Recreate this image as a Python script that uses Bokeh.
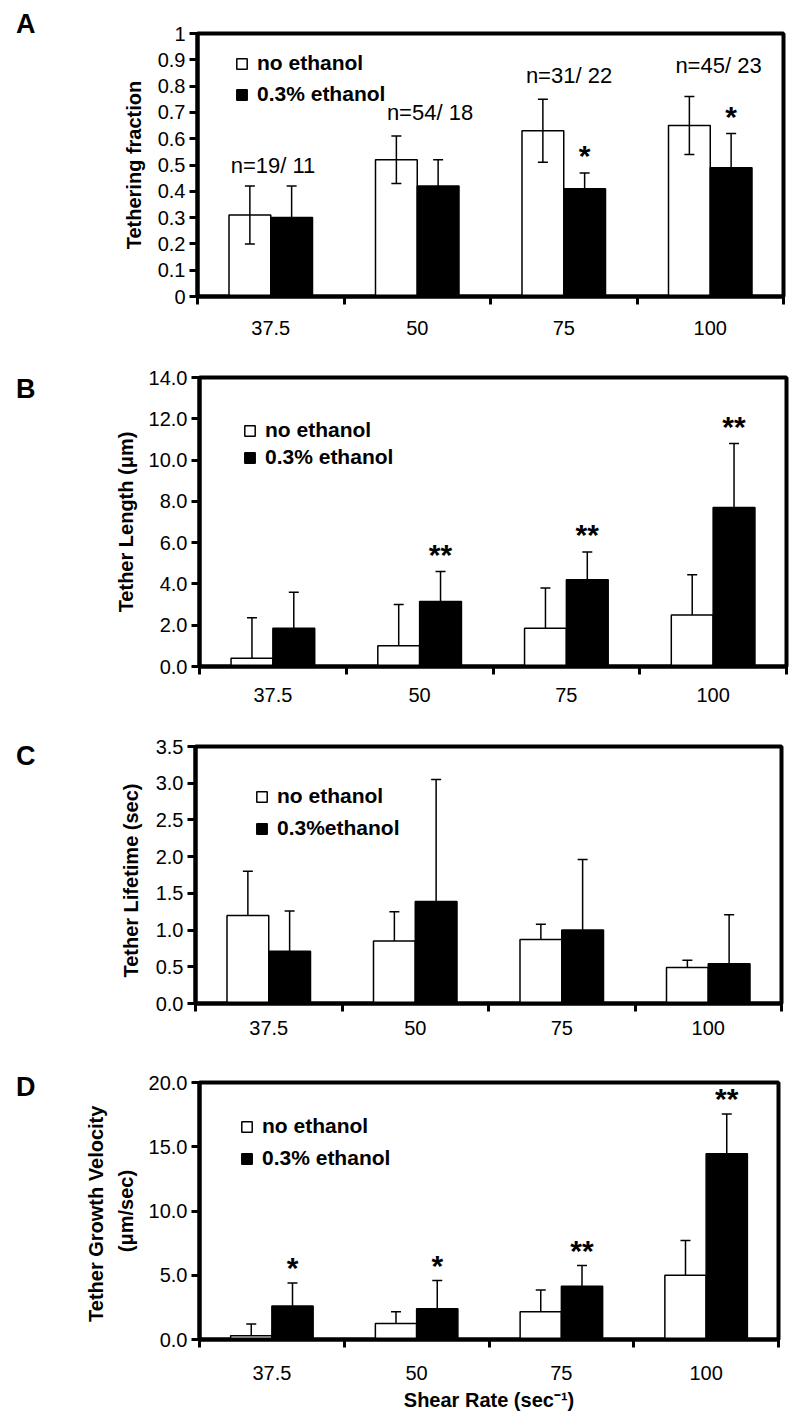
from bokeh.plotting import figure
from bokeh.layouts import column, row
from bokeh.models import (Range1d, FixedTicker, ColumnDataSource, Whisker, TeeHead,
                          Legend, LegendItem, Label, Div)
from bokeh.embed import file_html
from bokeh.resources import INLINE
from bokeh.core.properties import value

# ---------------- data ----------------
categories = ["37.5", "50", "75", "100"]
series_names = ["no ethanol", "0.3% ethanol"]

# A: tethering fraction
frac_no = [0.31, 0.52, 0.63, 0.65]
frac_no_err = [0.11, 0.09, 0.12, 0.11]
frac_eth = [0.30, 0.42, 0.41, 0.49]
frac_eth_err = [0.12, 0.10, 0.06, 0.13]
frac_n = ["n=19/ 11", "n=54/ 18", "n=31/ 22", "n=45/ 23"]
frac_stars = ["", "", "*", "*"]
frac_ticks = [0, 0.1, 0.2, 0.3, 0.4, 0.5, 0.6, 0.7, 0.8, 0.9, 1.0]
frac_tick_labels = ["0", "0.1", "0.2", "0.3", "0.4", "0.5", "0.6", "0.7", "0.8", "0.9", "1"]

# B: tether length (um)
len_no = [0.4, 1.0, 1.85, 2.5]
len_no_err = [1.96, 2.0, 1.95, 1.95]
len_eth = [1.85, 3.15, 4.2, 7.7]
len_eth_err = [1.75, 1.45, 1.35, 3.1]
len_stars = ["", "**", "**", "**"]
len_ticks = [0, 2, 4, 6, 8, 10, 12, 14]
len_tick_labels = ["0.0", "2.0", "4.0", "6.0", "8.0", "10.0", "12.0", "14.0"]

# C: tether lifetime (sec)
life_no = [1.2, 0.85, 0.87, 0.49]
life_no_err = [0.6, 0.4, 0.21, 0.1]
life_eth = [0.71, 1.39, 1.0, 0.54]
life_eth_err = [0.55, 1.66, 0.96, 0.67]
life_stars = ["", "", "", ""]
life_ticks = [0, 0.5, 1.0, 1.5, 2.0, 2.5, 3.0, 3.5]
life_tick_labels = ["0.0", "0.5", "1.0", "1.5", "2.0", "2.5", "3.0", "3.5"]

# D: tether growth velocity (um/sec)
vel_no = [0.3, 1.25, 2.15, 5.0]
vel_no_err = [0.9, 0.9, 1.7, 2.7]
vel_eth = [2.6, 2.4, 4.15, 14.45]
vel_eth_err = [1.8, 2.2, 1.6, 3.1]
vel_stars = ["*", "*", "**", "**"]
vel_ticks = [0, 5, 10, 15, 20]
vel_tick_labels = ["0.0", "5.0", "10.0", "15.0", "20.0"]

# ---------------- styling ----------------
FONT = "Liberation Sans"
BAR_W = 0.285
PAGE_W = 800
DIV_W = 40


def make_panel(page_top, fig_h, frame, ymax, yticks, ytick_labels,
               no_vals, no_err, eth_vals, eth_err, two_sided, stars, star_gap,
               letter, letter_pad, ylabel, ylabel_standoff, legend_cfg, eth_label,
               xlab_standoff, xtitle=None):
    left, top, width, height = frame
    bottom = top + height
    fig_w = PAGE_W - DIV_W
    p = figure(width=fig_w, height=fig_h, output_backend="svg", toolbar_location=None,
               x_range=Range1d(0, 4), y_range=Range1d(0, ymax),
               min_border_left=left - DIV_W, min_border_right=PAGE_W - left - width,
               min_border_top=top - page_top,
               min_border_bottom=fig_h - (top - page_top) - height, margin=0)
    p.outline_line_color = "black"
    p.outline_line_width = 4
    p.xgrid.visible = False
    p.ygrid.visible = False
    p.background_fill_color = "white"
    p.border_fill_color = "white"

    def px2x(px):
        return (px - left) / width * 4.0

    def py2y(py):
        return (bottom - py) / height * ymax

    n = len(categories)
    centers = [i + 0.5 for i in range(n)]
    xw = [c - BAR_W / 2 for c in centers]
    xb = [c + BAR_W / 2 for c in centers]

    # y axis
    ya = p.yaxis[0]
    ya.ticker = FixedTicker(ticks=yticks)
    ya.major_label_overrides = {t: s for t, s in zip(yticks, ytick_labels)}
    ya.axis_line_width = 4
    ya.major_tick_out = 8
    ya.major_tick_in = 0
    ya.major_tick_line_width = 3
    ya.minor_tick_line_color = None
    ya.major_label_standoff = 4
    ya.major_label_text_font = FONT
    ya.major_label_text_font_size = "20px"
    ya.major_label_text_color = "black"
    ya.axis_label = ylabel
    ya.axis_label_standoff = ylabel_standoff
    ya.axis_label_text_font = FONT
    ya.axis_label_text_font_style = "bold"
    ya.axis_label_text_font_size = "20px"
    ya.axis_label_text_color = "black"
    ya.axis_label_text_line_height = 1.35

    # x axis: labels at centres, ticks at boundaries
    xa = p.xaxis[0]
    xa.ticker = FixedTicker(ticks=centers, minor_ticks=[float(i) for i in range(n + 1)])
    xa.major_label_overrides = {c: s for c, s in zip(centers, categories)}
    xa.axis_line_width = 4
    xa.major_tick_line_color = None
    xa.major_tick_out = 8
    xa.major_tick_in = 0
    xa.minor_tick_out = 8
    xa.minor_tick_in = 0
    xa.minor_tick_line_width = 3
    xa.major_label_standoff = xlab_standoff
    xa.major_label_text_font = FONT
    xa.major_label_text_font_size = "20px"
    xa.major_label_text_color = "black"
    if xtitle:
        xa.axis_label = xtitle
        xa.axis_label_standoff = 6
        xa.axis_label_text_font = FONT
        xa.axis_label_text_font_style = "bold"
        xa.axis_label_text_font_size = "20px"
        xa.axis_label_text_color = "black"

    src_w = ColumnDataSource(dict(x=xw, top=no_vals,
                                  upper=[v + e for v, e in zip(no_vals, no_err)],
                                  lower=[(v - e) if two_sided else v for v, e in zip(no_vals, no_err)]))
    src_b = ColumnDataSource(dict(x=xb, top=eth_vals,
                                  upper=[v + e for v, e in zip(eth_vals, eth_err)],
                                  lower=[(v - e) if two_sided else v for v, e in zip(eth_vals, eth_err)],
                                  star=stars))
    rw = p.vbar(x="x", top="top", width=BAR_W, source=src_w,
                fill_color="white", line_color="black", line_width=1.5)
    rb = p.vbar(x="x", top="top", width=BAR_W, source=src_b,
                fill_color="black", line_color="black", line_width=1.5)

    for src in (src_w, src_b):
        w = Whisker(source=src, base="x", upper="upper", lower="lower", dimension="height",
                    line_color="black", line_width=1.5, level="overlay",
                    upper_head=TeeHead(size=10, line_width=1.5, line_color="black"),
                    lower_head=TeeHead(size=10, line_width=1.5, line_color="black") if two_sided else None)
        p.add_layout(w)

    p.text(x="x", y="upper", text="star", source=src_b, text_font=value(FONT),
           text_font_style="bold", text_font_size="30px", text_align="center",
           text_baseline="alphabetic", y_offset=-star_gap, text_color="black")

    # legend
    lx, ly, spacing = legend_cfg
    leg = Legend(items=[LegendItem(label=series_names[0], renderers=[rw]),
                        LegendItem(label=eth_label, renderers=[rb])],
                 location=(lx, ly), orientation="vertical",
                 border_line_color=None, background_fill_alpha=0,
                 padding=0, margin=0, spacing=spacing,
                 glyph_width=13, glyph_height=13, label_height=20,
                 label_standoff=9, label_text_font=FONT, label_text_font_style="bold",
                 label_text_font_size="21px", label_text_color="black")
    p.add_layout(leg)

    div = Div(text=letter, width=DIV_W, height=fig_h, margin=0,
              styles={"font-family": FONT, "font-weight": "bold", "font-size": "27px",
                      "line-height": "27px", "padding-top": "%dpx" % letter_pad,
                      "padding-left": "16px", "color": "black"})
    return row(div, p, spacing=0), p, px2x, py2y


# A  (figure rows: 0-345, 345-710, 710-1045, 1045-1420)
rA, pA, ax, ay = make_panel(0, 345, (197, 33, 586, 263), 1.0, frac_ticks, frac_tick_labels,
                            frac_no, frac_no_err, frac_eth, frac_eth_err, True, frac_stars, 17,
                            "A", 11, "Tethering fraction", 10,
                            (38, 190, 7), "0.3% ethanol", 16)
n_pos = [(272.5, 165), (429.5, 112), (568.5, 75), (718, 65)]
for txt, (cx, cy) in zip(frac_n, n_pos):
    pA.add_layout(Label(x=ax(cx), y=ay(cy), text=txt, text_font=FONT, text_font_size="22px",
                        text_align="center", text_baseline="middle", text_color="black"))

# B
rB, pB, bx, by = make_panel(345, 365, (199, 377, 587, 289), 14.0, len_ticks, len_tick_labels,
                            len_no, len_no_err, len_eth, len_eth_err, False, len_stars, 17,
                            "B", 31, "Tether Length (\u03bcm)", 9,
                            (44, 197, 3), "0.3% ethanol", 13)

# C
rC, pC, cx_, cy_ = make_panel(710, 335, (195, 746, 586, 257), 3.5, life_ticks, life_tick_labels,
                              life_no, life_no_err, life_eth, life_eth_err, False, life_stars, 8,
                              "C", 33, "Tether  Lifetime  (sec)", 11,
                              (60, 163, 8), "0.3%ethanol", 9)

# D
rD, pD, dx, dy = make_panel(1045, 375, (199, 1082, 579, 257), 20.0, vel_ticks, vel_tick_labels,
                            vel_no, vel_no_err, vel_eth, vel_eth_err, False, vel_stars, 15,
                            "D", 29, "Tether  Growth Velocity\n(\u03bcm/sec)", 9,
                            (41, 169, 8), "0.3% ethanol", 18,
                            xtitle="Shear Rate (sec\u207b\u00b9)")

layout = column(rA, rB, rC, rD, spacing=0)
open("out.html", "w").write(file_html(layout, INLINE))
